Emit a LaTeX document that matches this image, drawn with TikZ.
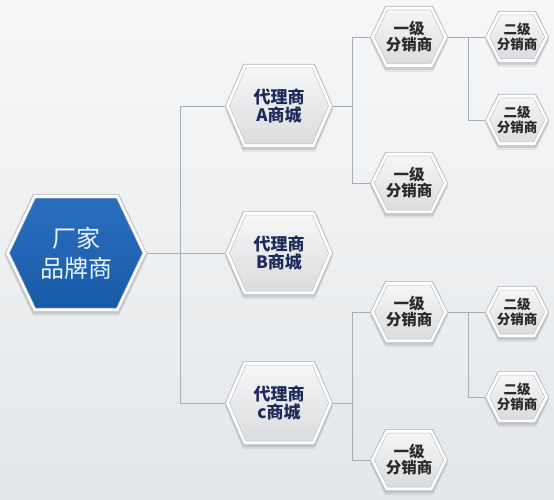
\documentclass[tikz,border=0pt]{standalone}
\usepackage{fontspec}
\newfontfamily\cjk{Noto Sans CJK SC}
\usetikzlibrary{positioning}

\definecolor{brandtop}{HTML}{2A6FBE}
\definecolor{brandbottom}{HTML}{175AA8}
\definecolor{brandtext}{HTML}{EEF3F9}
\definecolor{agenttext}{HTML}{1C2A5C}
\definecolor{disttext}{HTML}{2A2A2A}
\definecolor{linegray}{HTML}{A9ADB1}
\definecolor{rimgray}{HTML}{BFC3C7}
\definecolor{bgtop}{HTML}{F6F7F8}
\definecolor{bgbottom}{HTML}{E4E7EA}
\definecolor{hextop}{HTML}{F6F6F7}
\definecolor{hexbottom}{HTML}{DADCDE}

\pgfdeclarelayer{bg}
\pgfsetlayers{bg,main}

% hexagon with pointed left and right ends: half width, half height, inset
\newcommand\hexpath[3]{({-(#1)},0) -- ({-(#1)+(#3)},{-(#2)}) -- ({(#1)-(#3)},{-(#2)})
  -- ({#1},0) -- ({(#1)-(#3)},{#2}) -- ({-(#1)+(#3)},{#2}) -- cycle}
% hexagon behind a node: node, half width, half height, inset, top colour, bottom colour
\newcommand\hexat[6]{%
  \begin{scope}[shift={(#1.center)}]
    \fill[black, opacity=0.06, yshift=-4pt] \hexpath{#2}{#3}{#4};
    \fill[black, opacity=0.10, yshift=-2pt] \hexpath{#2}{#3}{#4};
    \fill[rimgray] \hexpath{#2}{#3}{#4};
    \fill[white] \hexpath{#2-1}{#3-0.9}{#4};
    \shade[top color=#5, bottom color=#6, draw=rimgray, line width=0.5pt]
      \hexpath{#2-4.4}{#3-4}{#4*(#3-4)/#3};
  \end{scope}}

\tikzset{
  hexbox/.style={rectangle, inner sep=0pt, outer sep=0pt, align=center},
  brandhex/.style={hexbox, minimum width=142pt, minimum height=118pt,
    text=brandtext, font=\cjk\fontsize{24pt}{30pt}\selectfont},
  agenthex/.style={hexbox, minimum width=108pt, minimum height=84pt,
    text=agenttext, font=\cjk\bfseries\fontsize{17pt}{18pt}\selectfont},
  firsthex/.style={hexbox, minimum width=78pt, minimum height=62pt,
    text=disttext, font=\cjk\bfseries\fontsize{15.5pt}{16pt}\selectfont},
  secondhex/.style={hexbox, minimum width=64pt, minimum height=52pt,
    text=disttext, font=\cjk\bfseries\fontsize{13.5pt}{14.5pt}\selectfont},
  link/.style={draw=linegray, line width=0.9pt}
}

\begin{document}
\begin{tikzpicture}[x=1pt, y=-1pt]
    % Background
    \useasboundingbox (0,0) rectangle (554,500);
    \begin{pgfonlayer}{bg}
      \shade[top color=bgtop, bottom color=bgbottom] (0,0) rectangle (554,500);
    \end{pgfonlayer}

    % Brand
    \node[brandhex] (brand) at (76,253) {厂家\\品牌商};

    % Agents
    \node[agenthex] (agentA) at (279,106) {代理商\\A商城};
    \node[agenthex] (agentB) at (279,253) {代理商\\B商城};
    \node[agenthex] (agentC) at (279,403) {代理商\\c商城};

    % First level
    \node[firsthex] (Aone) at (409,37) {一级\\分销商};
    \node[firsthex] (Atwo) at (409,183) {一级\\分销商};
    \node[firsthex] (Cone) at (409,312) {一级\\分销商};
    \node[firsthex] (Ctwo) at (409,460) {一级\\分销商};

    % Second level
    \node[secondhex] (Aonea) at (517,37) {二级\\分销商};
    \node[secondhex] (Aoneb) at (517,120) {二级\\分销商};
    \node[secondhex] (Conea) at (517,312) {二级\\分销商};
    \node[secondhex] (Coneb) at (517,397) {二级\\分销商};

    % Hexagons behind the texts
    \begin{pgfonlayer}{bg}
      \hexat{brand}{71}{59}{28}{brandtop}{brandbottom}
      \foreach \n in {agentA, agentB, agentC}
        {\hexat{\n}{54}{42}{18}{hextop}{hexbottom}}
      \foreach \n in {Aone, Atwo, Cone, Ctwo}
        {\hexat{\n}{39}{31}{15}{hextop}{hexbottom}}
      \foreach \n in {Aonea, Aoneb, Conea, Coneb}
        {\hexat{\n}{32}{26}{13}{hextop}{hexbottom}}
    \end{pgfonlayer}

    % Split points
    \coordinate (split) at (180,253);
    \coordinate (splitA) at (352,106);
    \coordinate (splitC) at (352,403);
    \coordinate (splitAone) at (468,37);
    \coordinate (splitCone) at (468,312);

    % Connectors
    \draw[link] (brand.east) -- (split);
    \draw[link] (agentA.west) -| (split);
    \draw[link] (agentB.west) -- (split);
    \draw[link] (agentC.west) -| (split);
    \draw[link] (agentA.east) -- (splitA);
    \draw[link] (Aone.west) -| (splitA);
    \draw[link] (Atwo.west) -| (splitA);
    \draw[link] (agentC.east) -- (splitC);
    \draw[link] (Cone.west) -| (splitC);
    \draw[link] (Ctwo.west) -| (splitC);
    \draw[link] (Aone.east) -- (splitAone);
    \draw[link] (Aonea.west) -| (splitAone);
    \draw[link] (Aoneb.west) -| (splitAone);
    \draw[link] (Cone.east) -- (splitCone);
    \draw[link] (Conea.west) -| (splitCone);
    \draw[link] (Coneb.west) -| (splitCone);
\end{tikzpicture}
\end{document}
